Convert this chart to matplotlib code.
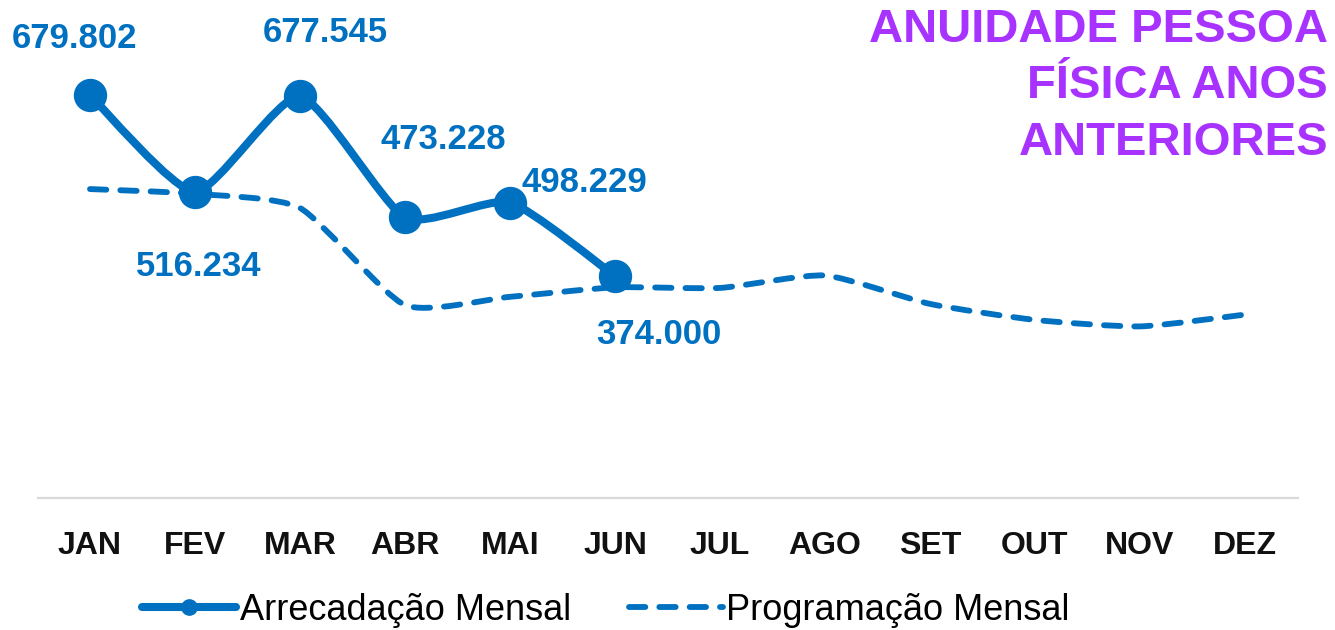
import matplotlib
matplotlib.use("Agg")
import matplotlib.pyplot as plt
from matplotlib.path import Path
from matplotlib.patches import PathPatch
from matplotlib.lines import Line2D

# ---- data ----
months = ["JAN", "FEV", "MAR", "ABR", "MAI", "JUN", "JUL", "AGO", "SET", "OUT", "NOV", "DEZ"]
arrecadacao = [679.802, 516.234, 677.545, 473.228, 498.229, 374.000]
arrecadacao_labels = ["679.802", "516.234", "677.545", "473.228", "498.229", "374.000"]
programacao = [521, 513, 489, 325, 339, 355, 354, 375, 327, 300, 289, 309]
title_lines = ["ANUIDADE PESSOA", "FÍSICA ANOS", "ANTERIORES"]
legend_labels = ["Arrecadação Mensal", "Programação Mensal"]

BLUE = "#0070C0"
PURPLE = "#A832FF"
W, H = 1335, 630
SMOOTH = 1 / 10.0

plt.rcParams['font.family'] = ['Liberation Sans', 'DejaVu Sans']

fig = plt.figure(figsize=(W / 100, H / 100), dpi=100)
ax_bottom = 132.5
ax_h = 800 * 0.592
ax = fig.add_axes([37.5 / W, ax_bottom / H, 1260 / W, ax_h / H])
ax.set_xlim(-0.5, 11.5)
ax.set_ylim(0, 800)


def smooth_path(xs, ys, k=SMOOTH):
    pts = list(zip(xs, ys))
    n = len(pts)
    verts = [pts[0]]
    codes = [Path.MOVETO]
    for i in range(n - 1):
        p0 = pts[i - 1] if i > 0 else pts[i]
        p1 = pts[i]
        p2 = pts[i + 1]
        p3 = pts[i + 2] if i + 2 < n else pts[i + 1]
        c1 = (p1[0] + (p2[0] - p0[0]) * k, p1[1] + (p2[1] - p0[1]) * k)
        c2 = (p2[0] - (p3[0] - p1[0]) * k, p2[1] - (p3[1] - p1[1]) * k)
        verts += [c1, c2, p2]
        codes += [Path.CURVE4] * 3
    return Path(verts, codes)


DASH = (0, (2.8, 2.4))
xp = list(range(len(programacao)))
dashed = PathPatch(smooth_path(xp, programacao), fill=False, edgecolor=BLUE,
                   linewidth=4.2, linestyle=DASH, capstyle='round',
                   transform=ax.transData, zorder=2)
ax.add_patch(dashed)

xa = list(range(len(arrecadacao)))
solid = PathPatch(smooth_path(xa, arrecadacao), fill=False, edgecolor=BLUE,
                  linewidth=5.8, capstyle='round', joinstyle='round',
                  transform=ax.transData, zorder=3)
ax.add_patch(solid)
ax.plot(xa, arrecadacao, linestyle='none', marker='o', markersize=23,
        color=BLUE, zorder=4)

offsets = [(-15.5, 56.5), (3.5, -75), (25.7, 63.7), (38, 78), (74.5, 20), (43.5, -58)]
for x, v, lab, (dx, dy) in zip(xa, arrecadacao, arrecadacao_labels, offsets):
    ax.annotate(lab, (x, v), xytext=(dx, dy), textcoords='offset pixels',
                ha='center', va='center', fontsize=25, fontweight='bold',
                color=BLUE, zorder=5)

# axes styling
for s in ['top', 'right', 'left']:
    ax.spines[s].set_visible(False)
ax.spines['bottom'].set_color('#D9D9D9')
ax.spines['bottom'].set_linewidth(1.6)
ax.set_yticks([])
ax.set_xticks(range(len(months)))
ax.set_xticklabels(months, fontsize=23, fontweight='bold', color='#111111')
ax.tick_params(axis='x', length=0, pad=24)

# title
baselines = [42, 98, 155]
for line, b in zip(title_lines, baselines):
    fig.text(1328 / W, 1 - b / H, line, ha='right', va='baseline',
             fontsize=34, fontweight='bold', color=PURPLE)

# legend
h1 = Line2D([], [], color=BLUE, linewidth=5.8, marker='o', markersize=11,
            solid_capstyle='round')
h2 = Line2D([], [], color=BLUE, linewidth=4.2, linestyle=DASH,
            dash_capstyle='round')
fig.legend([h1, h2], legend_labels, loc='center',
           bbox_to_anchor=(606 / W, 1 - 610 / H), ncol=2, frameon=False,
           fontsize=26, handlelength=2.6, handletextpad=0.1,
           columnspacing=1.6, borderpad=0, borderaxespad=0)

fig.savefig("out.png", dpi=100)
